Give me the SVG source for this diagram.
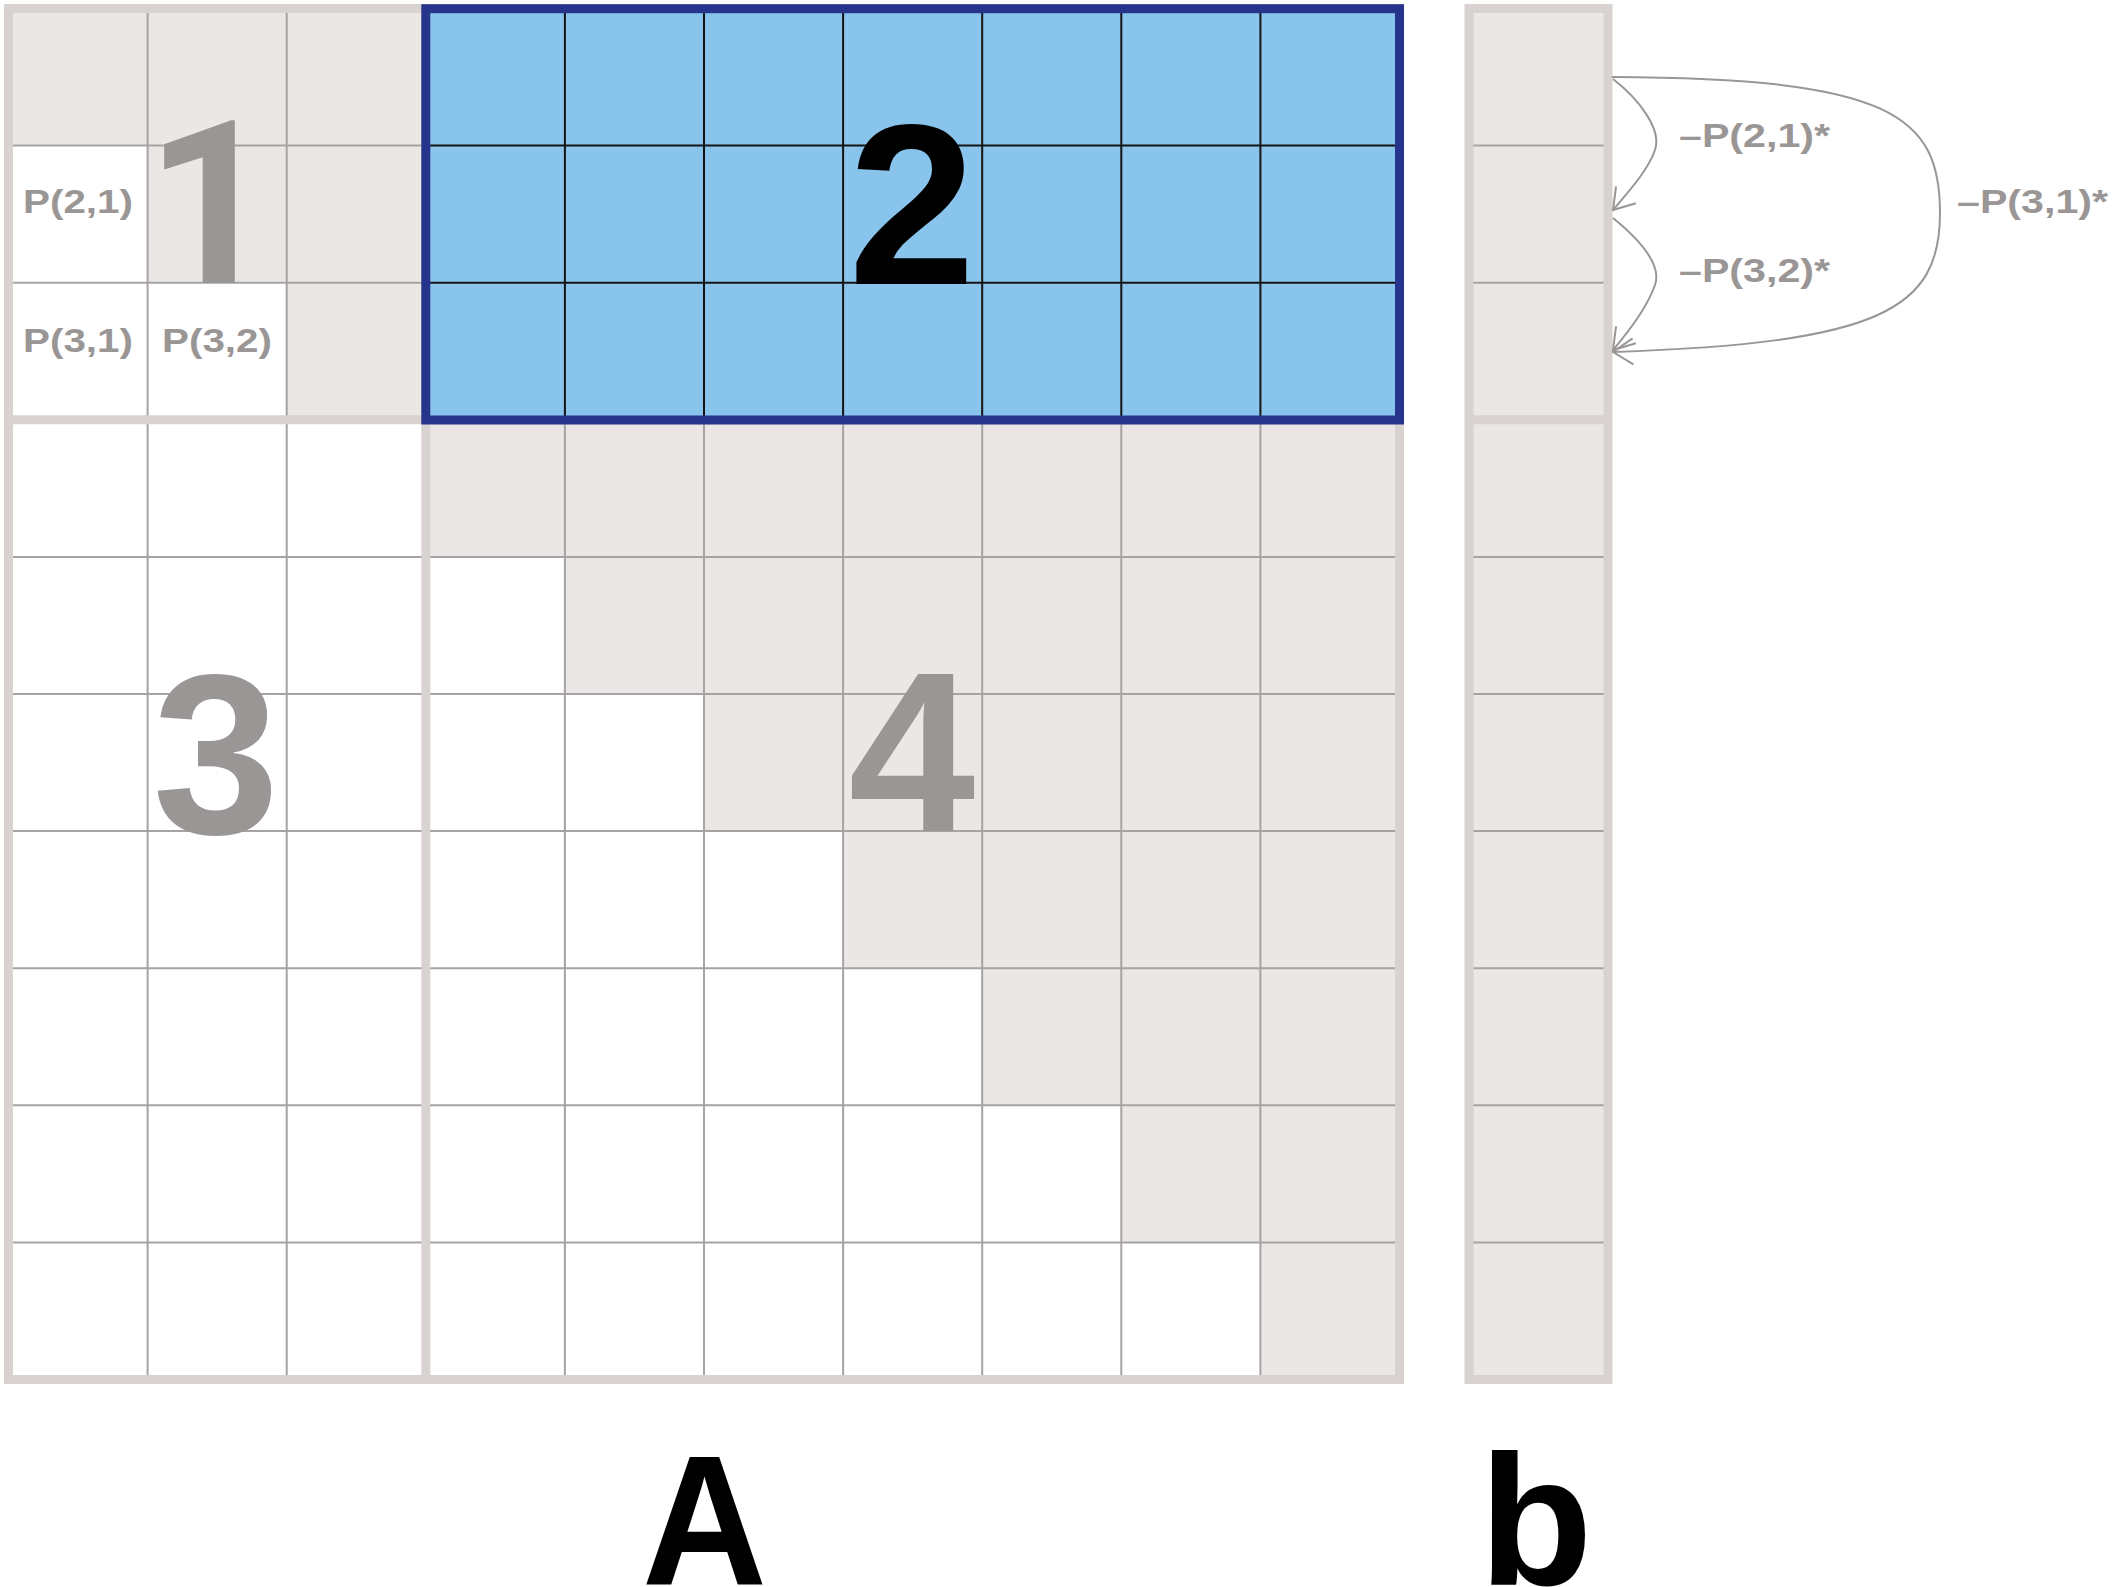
<svg xmlns="http://www.w3.org/2000/svg" width="2118" height="1587" viewBox="0 0 2118 1587">
<style>
.shade{fill:#ebe7e6}
.thin{stroke:#a6a3a2;stroke-width:2;fill:none}
.dark{stroke:#141414;stroke-width:2;fill:none}
.thick{stroke:#d8d2d1;stroke-width:9;fill:none}
.lbl{font-family:"Liberation Sans",Arial,sans-serif;font-weight:bold;font-size:34px;fill:#9a9695}
.big{font-family:"Liberation Sans",Arial,sans-serif;font-weight:bold;font-size:228px;text-anchor:middle}
.conn{stroke:#9a9695;stroke-width:2;fill:none;marker-end:url(#arr)}
.name{font-family:"Liberation Sans",Arial,sans-serif;font-weight:bold;font-size:186px;fill:#000}
</style>
<defs>
<marker id="arr" markerUnits="userSpaceOnUse" markerWidth="30" markerHeight="30" viewBox="-26 -15 30 30" refX="0" refY="0" orient="auto">
<path d="M-20,-13 L0,0 L-20,13" fill="none" stroke="#9a9695" stroke-width="2"/>
</marker>
</defs>
<rect width="2118" height="1587" fill="#ffffff"/>

<g id="matrixA">
<rect x="8.5" y="8.5" width="1391" height="1371" fill="#ffffff"/>
<g id="block1">
<rect class="shade" x="8.5" y="8.5" width="417.3" height="137.1"/>
<rect class="shade" x="147.6" y="145.6" width="278.2" height="137.1"/>
<rect class="shade" x="286.7" y="282.7" width="139.1" height="137.1"/>
</g>
<g id="block4">
<rect class="shade" x="425.8" y="419.8" width="973.7" height="137.1"/>
<rect class="shade" x="564.9" y="556.9" width="834.6" height="137.1"/>
<rect class="shade" x="704" y="694" width="695.5" height="137.1"/>
<rect class="shade" x="843.1" y="831.1" width="556.4" height="137.1"/>
<rect class="shade" x="982.2" y="968.2" width="417.3" height="137.1"/>
<rect class="shade" x="1121.3" y="1105.3" width="278.2" height="137.1"/>
<rect class="shade" x="1260.4" y="1242.4" width="139.1" height="137.1"/>
</g>
<g id="gridA" class="thin">
<path d="M147.6,8.5V1379.5M286.7,8.5V1379.5M564.9,8.5V1379.5M704,8.5V1379.5M843.1,8.5V1379.5M982.2,8.5V1379.5M1121.3,8.5V1379.5M1260.4,8.5V1379.5"/>
<path d="M8.5,145.6H1399.5M8.5,282.7H1399.5M8.5,556.9H1399.5M8.5,694H1399.5M8.5,831.1H1399.5M8.5,968.2H1399.5M8.5,1105.3H1399.5M8.5,1242.4H1399.5"/>
</g>
<g id="bordersA" class="thick">
<rect x="8.5" y="8.5" width="1391" height="1371"/>
<path d="M425.8,8.5V1379.5M8.5,419.8H1399.5"/>
</g>
<g id="block2">
<rect x="425.8" y="8.5" width="973.7" height="411.3" fill="#89c4ec"/>
<path class="dark" d="M564.9,8.5V419.8M704,8.5V419.8M843.1,8.5V419.8M982.2,8.5V419.8M1121.3,8.5V419.8M1260.4,8.5V419.8M425.8,145.6H1399.5M425.8,282.7H1399.5"/>
<rect x="425.8" y="8.7" width="973.7" height="411.3" fill="none" stroke="#27348b" stroke-width="9"/>
</g>
<g id="cellLabels">
<text class="lbl" x="23" y="213" textLength="110" lengthAdjust="spacingAndGlyphs">P(2,1)</text>
<text class="lbl" x="23" y="351.5" textLength="110" lengthAdjust="spacingAndGlyphs">P(3,1)</text>
<text class="lbl" x="162" y="351.5" textLength="110" lengthAdjust="spacingAndGlyphs">P(3,2)</text>
</g>
<g id="blockNumbers">
<text class="big" x="211" y="283" fill="#9a9695" style="font-family:Roboto,'Liberation Sans',sans-serif">1</text>
<text class="big" x="912" y="284" fill="#000000">2</text>
<text class="big" x="216" y="833" fill="#9a9695">3</text>
<text class="big" x="912" y="831" fill="#9a9695">4</text>
</g>
</g>

<g id="vectorB">
<rect class="shade" x="1469" y="8.5" width="139" height="1371"/>
<path class="thin" d="M1469,145.6H1608M1469,282.7H1608M1469,556.9H1608M1469,694H1608M1469,831.1H1608M1469,968.2H1608M1469,1105.3H1608M1469,1242.4H1608"/>
<g class="thick">
<rect x="1469" y="8.5" width="139" height="1371"/>
<path d="M1469,419.8H1608"/>
</g>
</g>

<g id="connectors">
<path class="conn" d="M1613,79 C1640,100 1662,130 1655,150 C1648,170 1630,190 1613,210"/>
<path class="conn" d="M1613,218 C1640,240 1662,265 1655,285 C1648,305 1630,330 1613,350"/>
<path class="conn" d="M1612,77 C1890,78 1940,115 1940,213 C1940,310 1880,343 1613,352"/>
</g>
<g id="connectorLabels">
<text class="lbl" x="1679" y="146.5" textLength="151" lengthAdjust="spacingAndGlyphs">–P(2,1)*</text>
<text class="lbl" x="1679" y="281.5" textLength="151" lengthAdjust="spacingAndGlyphs">–P(3,2)*</text>
<text class="lbl" x="1957" y="213" textLength="151" lengthAdjust="spacingAndGlyphs">–P(3,1)*</text>
</g>

<g id="names">
<text class="name" x="642" y="1585" textLength="125" lengthAdjust="spacingAndGlyphs">A</text>
<text class="name" x="1479" y="1585">b</text>
</g>
</svg>
